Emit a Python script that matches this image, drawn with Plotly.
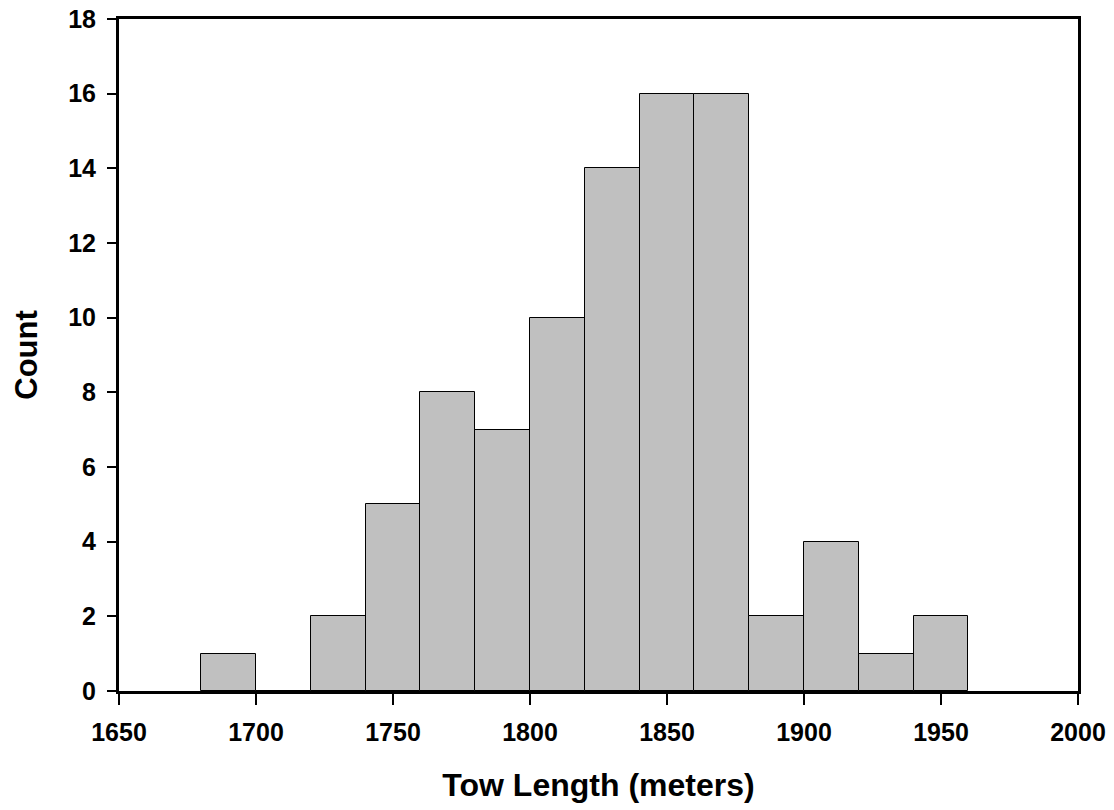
import plotly.graph_objects as go

bin_starts = [1680, 1700, 1720, 1740, 1760, 1780, 1800, 1820, 1840, 1860, 1880, 1900, 1920, 1940]
counts = [1, 0, 2, 5, 8, 7, 10, 14, 16, 16, 2, 4, 1, 2]
bin_width = 20
x_ticks = [1650, 1700, 1750, 1800, 1850, 1900, 1950, 2000]
y_ticks = [0, 2, 4, 6, 8, 10, 12, 14, 16, 18]

centers = [s + bin_width / 2 for s in bin_starts]

fig = go.Figure(go.Bar(
    x=centers, y=counts, width=[bin_width] * len(counts),
    marker=dict(color="#c0c0c0", line=dict(color="black", width=1)),
))

fam = "Liberation Sans, Arial"
fig.update_layout(
    template="none",
    width=1114, height=810,
    margin=dict(l=119, r=36, t=19, b=119, autoexpand=False),
    plot_bgcolor="white", paper_bgcolor="white",
    showlegend=False,
    font=dict(family=fam, color="black"),
    xaxis=dict(
        range=[1650, 2000], tickvals=x_ticks, ticktext=[str(v) for v in x_ticks],
        automargin=False,
        showgrid=False, zeroline=False, showline=True, linecolor="black", linewidth=3,
        mirror=True, ticks="outside", ticklen=11, tickwidth=2, tickcolor="black",
        ticklabelstandoff=6,
        tickfont=dict(family=fam, size=25, color="black", weight="bold"),
        title=dict(text="<b>Tow Length (meters)</b>", font=dict(size=32, family=fam), standoff=29),
    ),
    yaxis=dict(
        range=[0, 18], tickvals=y_ticks,
        automargin=False,
        showgrid=False, zeroline=False, showline=True, linecolor="black", linewidth=3,
        mirror=True, ticks="outside", ticklen=9, tickwidth=2, tickcolor="black",
        ticklabelstandoff=6,
        tickfont=dict(family=fam, size=25, color="black", weight="bold"),
        title=dict(text="<b>Count</b>", font=dict(size=31, family=fam), standoff=22),
    ),
    bargap=0,
)

fig.write_html("out.html")
